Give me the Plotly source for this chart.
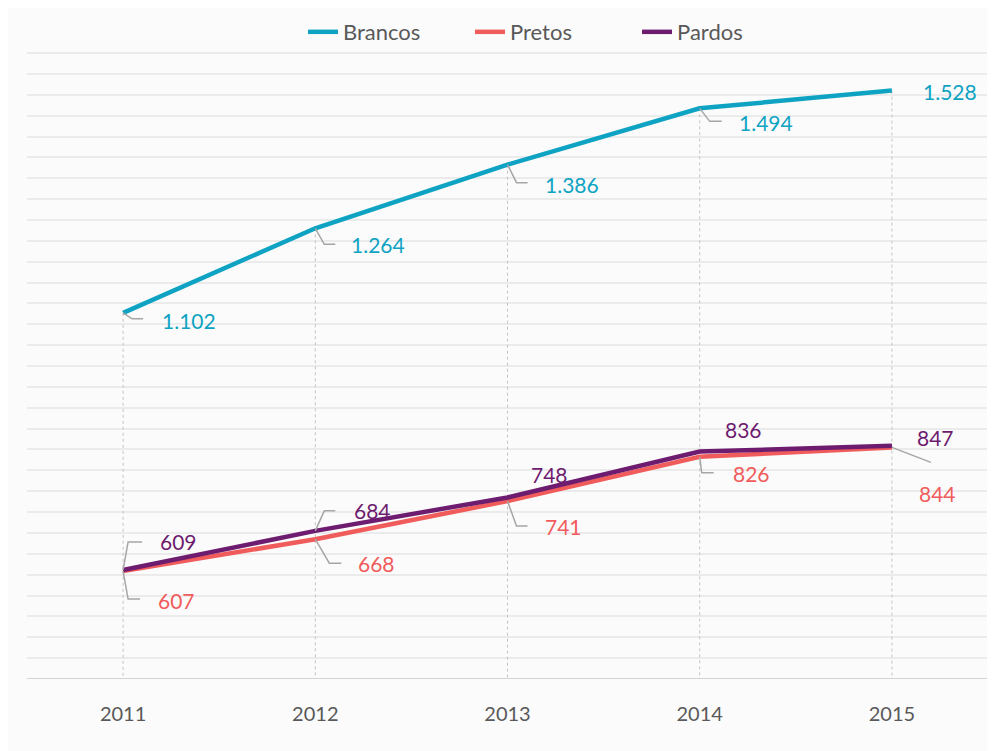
import plotly.graph_objects as go

years = ["2011", "2012", "2013", "2014", "2015"]
brancos = [1102, 1264, 1386, 1494, 1528]
pretos = [607, 668, 741, 826, 844]
pardos = [609, 684, 748, 836, 847]

brancos_labels = ["1.102", "1.264", "1.386", "1.494", "1.528"]
pretos_labels = ["607", "668", "741", "826", "844"]
pardos_labels = ["609", "684", "748", "836", "847"]

C_BR = "#0fa3c3"
C_PR = "#f05b5b"
C_PA = "#6e1c6f"
FONT = "Lato"
xs = list(range(len(years)))

fig = go.Figure()

# drop lines from Brancos points to the axis
dx, dy = [], []
for i, v in zip(xs, brancos):
    dx += [i, i, None]
    dy += [v, 400, None]
fig.add_trace(go.Scatter(x=dx, y=dy, mode="lines", showlegend=False, hoverinfo="skip",
                         line=dict(color="#c4c4c4", width=1, dash="dot")))

fig.add_trace(go.Scatter(x=xs, y=brancos, name="Brancos", mode="lines",
                         line=dict(color=C_BR, width=4.5)))
fig.add_trace(go.Scatter(x=xs, y=pretos, name="Pretos", mode="lines",
                         line=dict(color=C_PR, width=4.5)))
fig.add_trace(go.Scatter(x=xs, y=pardos, name="Pardos", mode="lines",
                         line=dict(color=C_PA, width=4.5)))

# label placement (pixel offsets: xshift from point to text left edge, yshift up)
br_off = [(37, -8), (34, -16), (35, -20), (37, -14), (29, -1)]
pa_off = [(35, 28), (37, 20), (21, 23), (23, 22), (23, 8)]
pr_off = [(33, -29), (41, -24), (35, -25), (31, -17), (25, -46)]

# leader paths (pixel offsets, y up)
br_lead = ["M0,0 L9,-6 L20,-6", "M0,0 L9,-16 L20,-16", "M0,0 L9,-18 L20,-18",
           "M0,0 L10,-13 L22,-13", None]
pa_lead = ["M0,0 L5,28 L19,28", "M0,0 L9,20 L20,20", None, None, None]
pr_lead = ["M0,0 L5,-28 L17,-28", "M0,0 L14,-24 L26,-24", "M0,0 L9,-25 L20,-25",
           "M0,0 L2,-16 L14,-16", "M0,0 L39,-15"]

annotations = []
shapes = []
for vals, labs, offs, leads, col in [
    (brancos, brancos_labels, br_off, br_lead, C_BR),
    (pardos, pardos_labels, pa_off, pa_lead, C_PA),
    (pretos, pretos_labels, pr_off, pr_lead, C_PR),
]:
    for i, (v, t, (xo, yo), lp) in enumerate(zip(vals, labs, offs, leads)):
        annotations.append(dict(x=i, y=v, xref="x", yref="y", text=t, showarrow=False,
                                xanchor="left", yanchor="middle", xshift=xo, yshift=yo,
                                font=dict(family=FONT, size=21, color=col)))
        if lp:
            shapes.append(dict(type="path", xref="x", yref="y", xsizemode="pixel",
                               ysizemode="pixel", xanchor=i, yanchor=v, path=lp,
                               line=dict(color="#a6a6a6", width=1.5), layer="above"))

fig.update_layout(
    width=995, height=751,
    margin=dict(l=19, r=15, t=44, b=80, autoexpand=False),
    paper_bgcolor="#fbfbfb", plot_bgcolor="#fbfbfb",
    showlegend=True,
    legend=dict(orientation="h", x=0.2965, xref="container", xanchor="left",
                y=0.968, yref="container", yanchor="middle",
                font=dict(family=FONT, size=22, color="#595959"),
                bgcolor="rgba(0,0,0,0)", traceorder="normal",
                entrywidth=122),
    annotations=annotations,
    shapes=shapes,
    xaxis=dict(range=[-0.5, 4.5], tickvals=xs, ticktext=years, showgrid=False,
               zeroline=False, showline=False, ticks="outside", ticklen=17,
               tickcolor="rgba(0,0,0,0)",
               tickfont=dict(family=FONT, size=20, color="#595959")),
    yaxis=dict(range=[400, 1602], dtick=40, tick0=400, showticklabels=False,
               gridcolor="#ebebeb", gridwidth=1.5, zeroline=False, showline=False, ticks=""),
)
# bottom axis line
fig.add_hline(y=400, line=dict(color="#d4d4d4", width=2), layer="below")

fig.write_html("out.html")
